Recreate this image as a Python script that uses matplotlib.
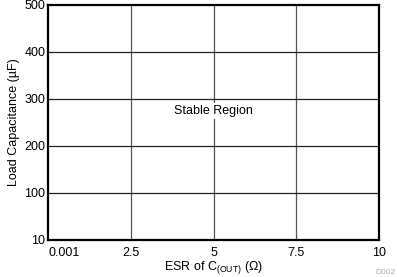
import matplotlib
matplotlib.use('Agg')
import matplotlib.pyplot as plt

plt.rcParams['font.family'] = ['Liberation Sans', 'DejaVu Sans']

x_labels = ['0.001', '2.5', '5', '7.5', '10']
y_labels = ['10', '100', '200', '300', '400', '500']
region_text = 'Stable Region'
region_x = 2.0
region_y = 2.75

fig = plt.figure(figsize=(3.97, 2.77), dpi=100)
ax = fig.add_axes([0.121, 0.1336, 0.834, 0.849])

ax.set_xlim(0, len(x_labels) - 1)
ax.set_ylim(0, len(y_labels) - 1)
ax.set_xticks(range(len(x_labels)))
ax.set_xticklabels(x_labels, fontsize=9)
ax.get_xticklabels()[0].set_ha('left')
ax.set_yticks(range(len(y_labels)))
ax.set_yticklabels(y_labels, fontsize=9)
ax.tick_params(length=0)
ax.tick_params(axis='x', pad=5)
ax.tick_params(axis='y', pad=2)

for i in range(1, len(x_labels) - 1):
    ax.axvline(i, color='#555555', lw=0.9, zorder=1)
for j in range(1, len(y_labels) - 1):
    ax.axhline(j, color='#222222', lw=0.9, zorder=1)

for s in ax.spines.values():
    s.set_linewidth(1.6)
    s.set_color('black')

ax.text(region_x, region_y, region_text, ha='center', va='center', fontsize=9,
        bbox=dict(facecolor='white', edgecolor='none', pad=1.5), zorder=3)

ax.set_xlabel('ESR of C$_{\\mathregular{(OUT)}}$ (\u03a9)', fontsize=9, labelpad=0)
ax.set_ylabel('Load Capacitance (\u00b5F)', fontsize=9, labelpad=3)

fig.text(0.995, 0.005, 'D002', ha='right', va='bottom', fontsize=6, color='#aaaaaa')

fig.savefig('out.png', dpi=100)
